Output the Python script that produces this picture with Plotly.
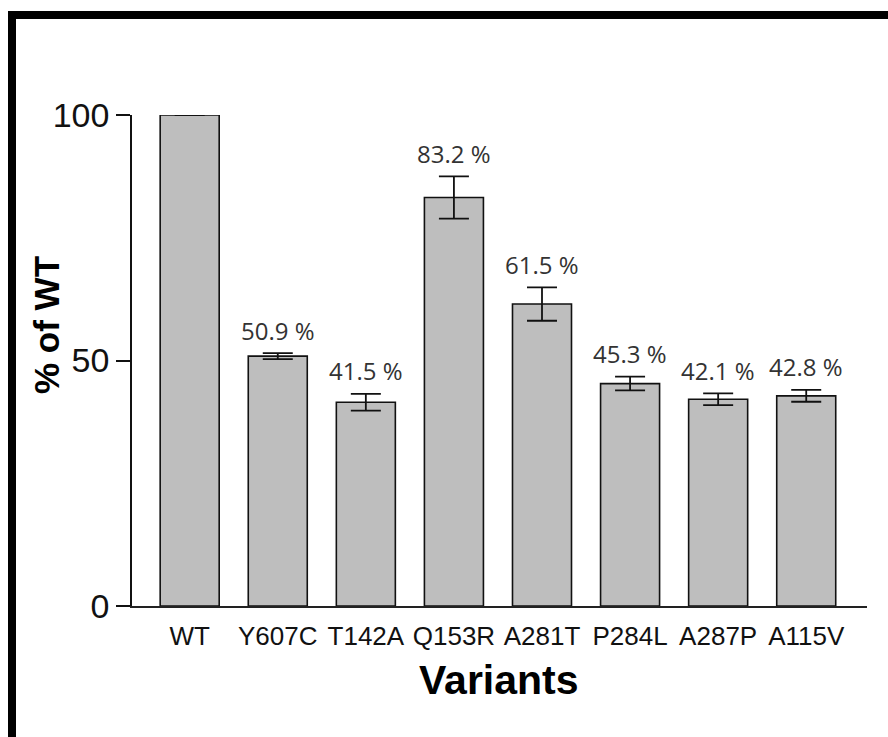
import plotly.graph_objects as go

variants = ["WT", "Y607C", "T142A", "Q153R", "A281T", "P284L", "A287P", "A115V"]
percent_of_wt = [100, 50.9, 41.5, 83.2, 61.5, 45.3, 42.1, 42.8]
error_sd = [0, 0.6, 1.7, 4.3, 3.4, 1.4, 1.2, 1.2]
y_ticks = [0, 50, 100]

idx = list(range(len(variants)))

fig = go.Figure()
fig.add_trace(go.Bar(
    x=idx, y=percent_of_wt, width=0.67,
    marker=dict(color="#BEBEBE", line=dict(color="#111111", width=1.6)),
    error_y=dict(type="data", array=error_sd, visible=True, color="#111111",
                 thickness=1.8, width=15),
    showlegend=False, hoverinfo="skip",
))

for i, v, e in zip(idx, percent_of_wt, error_sd):
    if i == 0:
        continue
    fig.add_annotation(x=i, y=v + e, text=f"{v:.1f} %", showarrow=False,
                       yanchor="middle", yshift=23,
                       font=dict(family="Open Sans, Noto Sans, sans-serif", size=24, color="#333333"))

W, H = 888, 737
L, R, T, B = 132, 21, 115, 131
pw, ph = W - L - R, H - T - B

def px_x(p):
    return (p - L) / pw

def px_y(p):
    return (H - B - p) / ph

# axis titles
fig.add_annotation(xref="paper", yref="paper", x=px_x(499), y=px_y(680),
                   text="<b>Variants</b>", showarrow=False, xanchor="center", yanchor="middle",
                   font=dict(family="Liberation Sans, Arial, sans-serif", size=41, color="black"))
fig.add_annotation(xref="paper", yref="paper", x=px_x(46), y=px_y(325),
                   text="<b>% of WT</b>", showarrow=False, textangle=-90,
                   xanchor="center", yanchor="middle",
                   font=dict(family="Liberation Sans, Arial, sans-serif", size=35, color="black"))

# outer frame (screenshot border)
fig.add_shape(type="rect", xref="paper", yref="paper",
              x0=px_x(12), x1=px_x(W + 20), y0=px_y(H + 20), y1=px_y(15),
              line=dict(color="black", width=8), fillcolor="rgba(0,0,0,0)", layer="above")

fig.update_layout(
    width=W, height=H,
    margin=dict(l=L, r=R, t=T, b=B, autoexpand=False),
    paper_bgcolor="white", plot_bgcolor="white",
    xaxis=dict(
        range=[-0.655, 7.69], tickvals=idx, ticktext=variants,
        showline=True, linecolor="#222222", linewidth=1.6, ticks="",
        showgrid=False, zeroline=False, ticklabelstandoff=6,
        tickfont=dict(family="Liberation Sans, Arial, sans-serif", size=26, color="#111111"),
    ),
    yaxis=dict(
        range=[0, 100], tickvals=y_ticks, ticktext=[str(t) for t in y_ticks],
        showline=True, linecolor="#111111", linewidth=1.6,
        ticks="outside", ticklen=14, tickwidth=1.6, tickcolor="#111111",
        showgrid=False, zeroline=False,
        tickfont=dict(family="Liberation Sans, Arial, sans-serif", size=34, color="#111111"),
    ),
)

fig.write_html("out.html", config={"displayModeBar": False},
               post_script="document.body.style.margin='0';document.body.style.overflow='hidden';")
